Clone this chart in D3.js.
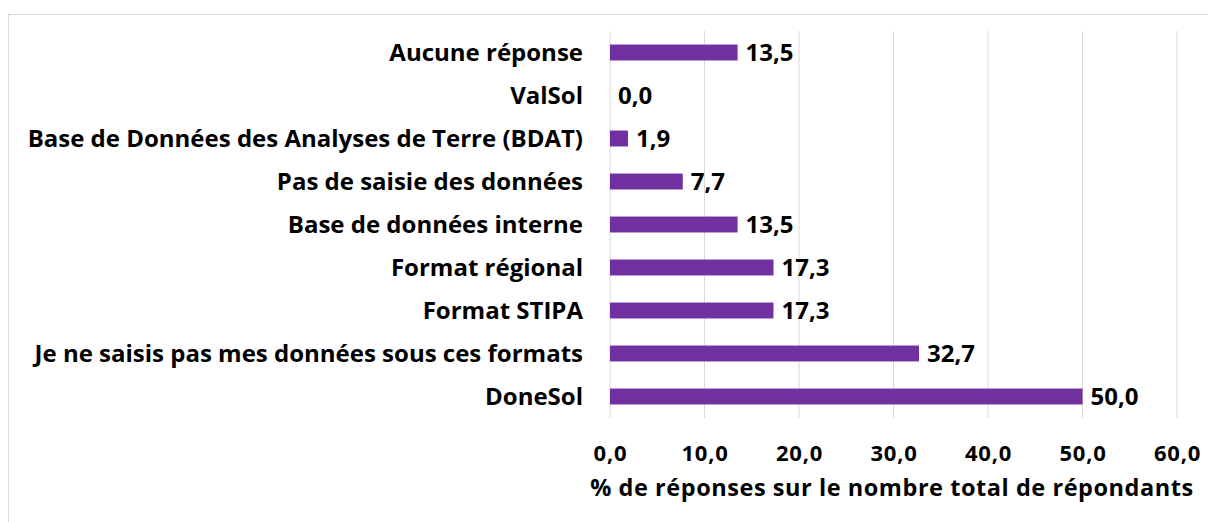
<!DOCTYPE html>
<html><head><meta charset="utf-8">
<script src="https://cdn.jsdelivr.net/npm/d3@7"></script>
<style>body{margin:0;background:#fff}svg{display:block}text{font-family:"Open Sans",Lato,sans-serif;font-weight:bold;fill:#000}</style>
</head><body>
<script>
const categories = ["Aucune réponse","ValSol","Base de Données des Analyses de Terre (BDAT)","Pas de saisie des données","Base de données interne","Format régional","Format STIPA","Je ne saisis pas mes données sous ces formats","DoneSol"];
const values = [13.5,0.0,1.9,7.7,13.5,17.3,17.3,32.7,50.0];
const xTicks = [0,10,20,30,40,50,60];
const xTitle = "% de réponses sur le nombre total de répondants";

const W=1208,H=522,FS=24;
const svg=d3.select("body").append("svg").attr("width",W).attr("height",H);
svg.append("rect").attr("x",8.5).attr("y",14.5).attr("width",W).attr("height",H).attr("fill","#fff").attr("stroke","#d9d9d9");
const m={l:610,r:1177,t:31,b:418};
const x=d3.scaleLinear().domain([0,60]).range([m.l,m.r]);
const y=d3.scaleBand().domain(categories).range([m.t,m.b]).paddingInner(0.63).paddingOuter(0.315);
const fmt=v=>v.toFixed(1).replace(".",",");
const font=(sel,fs=FS)=>sel.attr("font-size",fs).style("font-family",'"Open Sans",Lato,sans-serif').style("font-weight","bold").attr("fill","#000");
// grid
svg.append("g").selectAll("line").data(xTicks).join("line")
 .attr("x1",d=>x(d)).attr("x2",d=>x(d)).attr("y1",m.t).attr("y2",m.b)
 .attr("stroke","#d9d9d9").attr("stroke-width",1);
// bars
svg.append("g").selectAll("rect").data(values).join("rect")
 .attr("x",x(0)).attr("y",(d,i)=>y(categories[i])).attr("width",d=>x(d)-x(0)).attr("height",y.bandwidth())
 .attr("fill","#7030a0");
// value labels
svg.append("g").selectAll("text").data(values).join("text")
 .attr("x",d=>x(d)+8).attr("y",(d,i)=>y(categories[i])+y.bandwidth()/2+8.5)
 .call(font).text(d=>fmt(d));
// category axis
const ya=svg.append("g").attr("transform",`translate(${m.l},0)`).call(d3.axisLeft(y).tickSize(0).tickPadding(27));
ya.select(".domain").remove();
ya.selectAll("text").call(font).attr("dy",null).attr("y",8.5);
// x axis
const xa=svg.append("g").attr("transform",`translate(0,${m.b})`).call(d3.axisBottom(x).tickValues(xTicks).tickFormat(fmt).tickSize(0));
xa.select(".domain").remove();
xa.selectAll("text").call(font,22).attr("dy",null).attr("y",43).style("letter-spacing","0.8px");
svg.append("text").attr("x",892).attr("y",496).attr("text-anchor","middle").call(font,23.5).style("letter-spacing","0.55px").text(xTitle);
</script>
</body></html>
